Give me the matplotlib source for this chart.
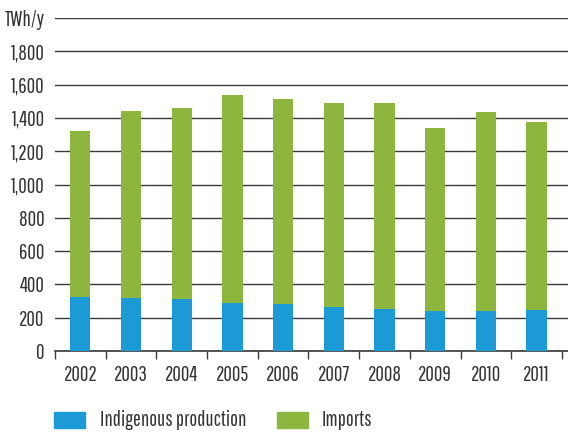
import matplotlib
matplotlib.use("Agg")
import matplotlib.pyplot as plt
from matplotlib.patches import Rectangle
from matplotlib.ticker import FuncFormatter

years = ["2002", "2003", "2004", "2005", "2006", "2007", "2008", "2009", "2010", "2011"]
indigenous = [326, 318, 311, 290, 283, 265, 251, 239, 243, 247]
totals = [1324, 1439, 1461, 1540, 1512, 1492, 1488, 1342, 1433, 1377]
imports = [t - i for t, i in zip(totals, indigenous)]
y_ticks = [0, 200, 400, 600, 800, 1000, 1200, 1400, 1600, 1800, 2000]
unit_label = "TWh/y"

blue = "#1b9ad6"
green = "#8db63f"
text_c = "#333333"
FS = 15

plt.rcParams['font.family'] = ['Pathway Gothic One', 'DejaVu Sans']

fig = plt.figure(figsize=(5.68, 4.32), dpi=100)
W, H = 568, 432
ax = fig.add_axes([55 / W, 1 - 351 / H, (568 - 55) / W, (351 - 18) / H])

x = list(range(len(years)))
ax.bar(x, indigenous, width=0.4, color=blue, zorder=3)
ax.bar(x, imports, width=0.4, bottom=indigenous, color=green, zorder=3)

ax.set_ylim(0, 2000)
ax.set_xlim(-0.5, 9.62)
ax.set_yticks(y_ticks)
ax.yaxis.set_major_formatter(FuncFormatter(lambda v, p: unit_label if v == 2000 else f"{int(v):,}"))
ax.grid(axis='y', color='#3a3a3a', lw=1.0, zorder=0)
ax.tick_params(axis='y', length=0, pad=7.5, labelsize=FS, labelcolor=text_c)

ax.set_xticks([i - 0.5 for i in range(len(years) + 1)])
ax.set_xticklabels([])
ax.set_xticks(x, minor=True)
ax.set_xticklabels(years, minor=True)
ax.tick_params(axis='x', which='major', length=6, width=1, color='#3a3a3a', direction='out')
ax.tick_params(axis='x', which='minor', length=0, pad=10, labelsize=FS, labelcolor=text_c)

for s in ['top', 'right', 'left']:
    ax.spines[s].set_visible(False)
ax.spines['bottom'].set_color('#3a3a3a')
ax.spines['bottom'].set_linewidth(1.2)

# legend
fig.patches.append(Rectangle((54 / W, 1 - 428 / H), 31 / W, 16 / H, transform=fig.transFigure, color=blue))
fig.text(100 / W, 1 - 420 / H, "Indigenous production", va='center', ha='left', fontsize=FS, color=text_c)
fig.patches.append(Rectangle((277 / W, 1 - 428 / H), 31 / W, 16 / H, transform=fig.transFigure, color=green))
fig.text(322 / W, 1 - 420 / H, "Imports", va='center', ha='left', fontsize=FS, color=text_c)

fig.savefig("out.png", dpi=100)
